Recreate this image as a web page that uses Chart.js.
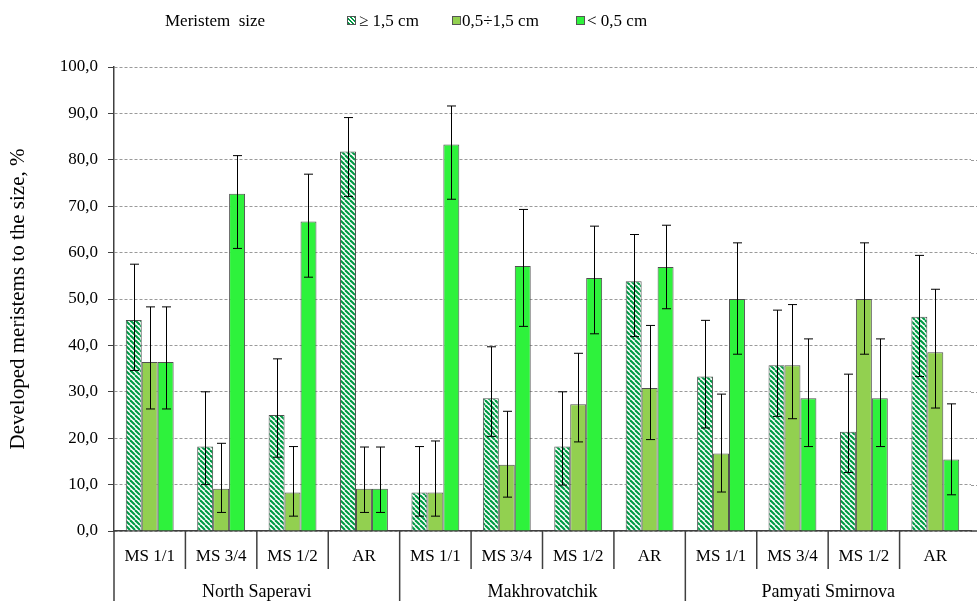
<!DOCTYPE html>
<html lang="en">
<head>
<meta charset="UTF-8">
<title>Developed meristems by size</title>
<style>
  body{margin:0;background:#fff;}
  .wrap{position:relative;width:977px;height:601px;overflow:hidden;}
  #chart{position:absolute;left:0;top:0;}
  /* legend sits on top of the canvas */
  .lg{position:absolute;top:11px;font:17px "Liberation Serif","Times New Roman",serif;color:#000;white-space:nowrap;line-height:20px;}
  .sw{position:absolute;top:16px;width:7px;height:7px;border:1px solid #555;}
</style>
<script src="https://cdn.jsdelivr.net/npm/chart.js"></script>
</head>
<body>
<div class="wrap">
  <canvas id="chart" width="977" height="601"></canvas>
  <div class="lg" style="left:165px">Meristem&nbsp; size</div>
  <div class="sw" id="sw0" style="left:347px"></div><div class="lg" style="left:359px">≥ 1,5 cm</div>
  <div class="sw" id="sw1" style="left:452px"></div><div class="lg" style="left:462px">0,5÷1,5 cm</div>
  <div class="sw" id="sw2" style="left:576px"></div><div class="lg" style="left:587px">&lt; 0,5 cm</div>
</div>
<script>
/* ===== Data ===== */
const categories=["MS 1/1","MS 3/4","MS 1/2","AR","MS 1/1","MS 3/4","MS 1/2","AR","MS 1/1","MS 3/4","MS 1/2","AR"];
const groups=["North Saperavi","Makhrovatchik","Pamyati Smirnova"];
const seriesNames=["≥ 1,5 cm","0,5÷1,5 cm","< 0,5 cm"];

const big  =[45.5,18.2,25.0,81.8, 8.3,28.6,18.2,53.8,33.3,35.7,21.4,46.2];
const bigHi=[57.5,30.0,37.1,89.1,18.2,39.7,30.0,63.9,45.4,47.6,33.8,59.4];
const bigLo=[34.6,10.0,15.9,72.1, 3.2,20.4, 9.9,41.9,22.2,24.7,12.6,33.3];

const mid  =[36.4, 9.1, 8.3, 9.1, 8.3,14.3,27.3,30.8,16.7,35.7,50.0,38.5];
const midHi=[48.3,18.9,18.2,18.1,19.4,25.8,38.3,44.3,29.5,48.8,62.1,52.1];
const midLo=[26.3, 4.0, 3.2, 4.0, 3.2, 7.3,19.2,19.7, 8.4,24.2,38.1,26.5];

const small  =[36.4,72.7,66.7, 9.1,83.3,57.1,54.5,56.9,50.0,28.6,28.6,15.4];
const smallHi=[48.3,80.9,76.9,18.1,91.6,69.3,65.7,65.9,62.1,41.4,41.4,27.4];
const smallLo=[26.3,60.9,54.7, 4.0,71.5,44.1,42.5,47.9,38.1,18.2,18.2, 7.8];

/* ===== Colours ===== */
const HATCH="#009a45",OLIVE="#92d050",BRIGHT="#2ef23c";
const FONT='"Liberation Serif","Times New Roman",serif';

function makeHatch(){
  const c=document.createElement("canvas");c.width=c.height=5;
  const g=c.getContext("2d");
  g.fillStyle="#fff";g.fillRect(0,0,5,5);
  g.strokeStyle=HATCH;g.lineWidth=2.1;
  for(const o of [-5,0,5]){g.beginPath();g.moveTo(o,0);g.lineTo(o+5,5);g.stroke();}
  return g.createPattern(c,"repeat");
}
document.getElementById("sw0").style.background=`repeating-linear-gradient(45deg,${HATCH} 0 1.6px,#fff 1.6px 3px)`;
document.getElementById("sw1").style.background=OLIVE;
document.getElementById("sw2").style.background=BRIGHT;

/* ===== Plugins ===== */
const errorBars={id:"errorBars",
  afterDatasetsDraw(chart){
    const {ctx}=chart,ys=chart.scales.y;
    ctx.save();ctx.strokeStyle="#000";ctx.lineWidth=1;
    chart.data.datasets.forEach((ds,i)=>{
      chart.getDatasetMeta(i).data.forEach((bar,j)=>{
        const x=Math.round(bar.x)+.5,yh=ys.getPixelForValue(ds.errHi[j]),yl=ys.getPixelForValue(ds.errLo[j]);
        ctx.beginPath();
        ctx.moveTo(x,yh);ctx.lineTo(x,yl);
        ctx.moveTo(x-4.5,yh);ctx.lineTo(x+4.5,yh);
        ctx.moveTo(x-4.5,yl);ctx.lineTo(x+4.5,yl);
        ctx.stroke();
      });
    });
    ctx.restore();
  }};

const groupAxis={id:"groupAxis",
  beforeDatasetsDraw(chart){
    // grid continues to the right edge of the picture
    const {ctx,chartArea:a}=chart,ys=chart.scales.y;
    ctx.save();ctx.strokeStyle="#9a9a9a";ctx.lineWidth=1;ctx.setLineDash([3,2]);
    ys.ticks.forEach(t=>{if(t.value===0)return;const y=Math.round(ys.getPixelForValue(t.value))+.5;
      ctx.beginPath();ctx.moveTo(a.right,y);ctx.lineTo(chart.width,y);ctx.stroke();});
    ctx.restore();
  },
  afterDraw(chart){
    const {ctx,chartArea:a}=chart,xs=chart.scales.x;
    const w=xs.getPixelForValue(1)-xs.getPixelForValue(0);
    const per=categories.length/groups.length;
    ctx.save();ctx.strokeStyle="#404040";ctx.lineWidth=1.5;
    ctx.beginPath();ctx.moveTo(a.right,a.bottom);ctx.lineTo(chart.width,a.bottom);
    for(let k=0;k<categories.length;k++){
      const x=xs.getPixelForValue(k)-w/2;
      ctx.moveTo(x,a.bottom);ctx.lineTo(x,k%per===0?chart.height:a.bottom+38);
    }
    ctx.stroke();
    ctx.fillStyle="#000";ctx.font="18px "+FONT;ctx.textAlign="center";ctx.textBaseline="alphabetic";
    groups.forEach((g,i)=>{
      const cx=(xs.getPixelForValue(i*per)+xs.getPixelForValue(i*per+per-1))/2;
      ctx.fillText(g,cx,597);
    });
    ctx.restore();
  }};

/* ===== Chart ===== */
const border="#505050";
new Chart(document.getElementById("chart"),{
  type:"bar",
  data:{labels:categories,datasets:[
    {label:seriesNames[0],data:big,errHi:bigHi,errLo:bigLo,backgroundColor:makeHatch(),borderColor:border,borderWidth:1},
    {label:seriesNames[1],data:mid,errHi:midHi,errLo:midLo,backgroundColor:OLIVE,borderColor:border,borderWidth:1},
    {label:seriesNames[2],data:small,errHi:smallHi,errLo:smallLo,backgroundColor:BRIGHT,borderColor:border,borderWidth:1}
  ]},
  options:{
    responsive:false,animation:false,
    layout:{padding:{top:67,right:6,left:0,bottom:0}},
    datasets:{bar:{categoryPercentage:0.67,barPercentage:1}},
    plugins:{legend:{display:false},tooltip:{enabled:false}},
    scales:{
      x:{
        grid:{display:false,drawTicks:false},
        border:{display:true,color:"#404040",width:1.5},
        ticks:{color:"#000",font:{family:FONT,size:17},padding:15,maxRotation:0,autoSkip:false},
        afterFit(s){s.height=70;}
      },
      y:{
        min:0,max:100,
        grid:{color:"#9a9a9a",lineWidth:1,tickColor:"#404040",tickLength:6,tickBorderDash:[]},
        border:{display:true,color:"#404040",width:1.5,dash:[3,2]},
        ticks:{stepSize:10,color:"#000",font:{family:FONT,size:17},padding:10,
          callback:v=>v.toFixed(1).replace(".",",")},
        title:{display:true,text:"Developed meristems to the size, %",color:"#000",
          font:{family:FONT,size:21},padding:{top:6,bottom:0}},
        afterFit(s){s.width=114;}
      }
    }
  },
  plugins:[errorBars,groupAxis]
});
</script>
</body>
</html>
